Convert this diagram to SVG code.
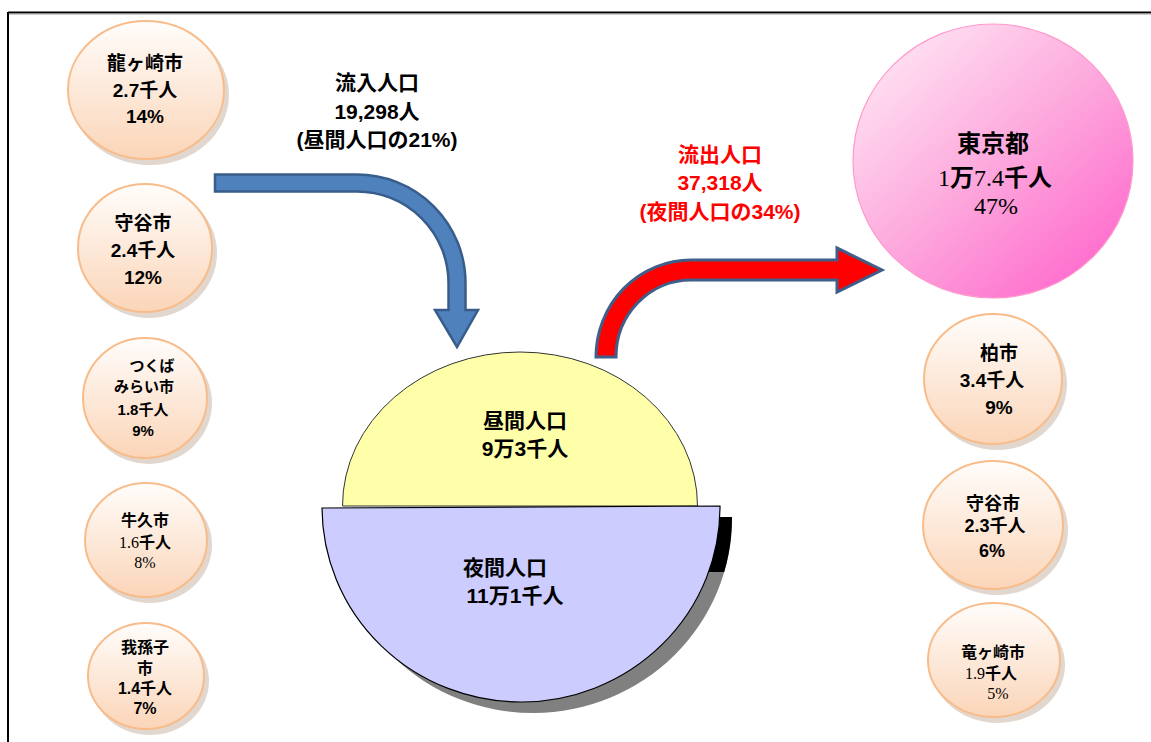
<svg xmlns="http://www.w3.org/2000/svg" width="1151" height="742" viewBox="0 0 1151 742">
<defs>
<linearGradient id="peach" x1="0" y1="0" x2="0" y2="1">
<stop offset="0" stop-color="#FFFDFB"/>
<stop offset="1" stop-color="#FBD5B8"/>
</linearGradient>
<linearGradient id="pink" x1="0.1" y1="0.05" x2="0.9" y2="0.95">
<stop offset="0" stop-color="#FFE6F4"/>
<stop offset="0.5" stop-color="#FDA9DD"/>
<stop offset="1" stop-color="#FF66CC"/>
</linearGradient>
<clipPath id="upperShadow"><rect x="300" y="500" width="460" height="72"/></clipPath>
</defs>
<style>
.bubble{fill:url(#peach);stroke:#F8BC8A;stroke-width:2}
.shadow{fill:#E2D7CE}
.t{font-family:"Liberation Sans","Noto Sans CJK JP",sans-serif;font-weight:bold;text-anchor:middle;fill:#000}
.s{font-family:"Liberation Serif","Noto Sans CJK JP",serif;font-weight:normal}
.red{fill:#FF0000}
</style>
<rect width="1151" height="742" fill="#FFFFFF"/>
<g id="frame">
<line x1="8" y1="12.5" x2="1151" y2="12.5" stroke="#000" stroke-width="2"/>
<line x1="8" y1="14" x2="1151" y2="14" stroke="#999" stroke-width="1"/>
<line x1="8" y1="12" x2="8" y2="742" stroke="#000" stroke-width="2"/>
</g>

<g id="connectors">
<path id="inflow" d="M215,174.5 H357 A108.5,108.5 0 0 1 465.5,283 V310 H478 L457,347 L435,310 H448.5 V283 A91.5,91.5 0 0 0 357,191.5 H215 Z" fill="#4F81BD" stroke="#385D8A" stroke-width="2.5" stroke-linejoin="miter"/>
<path id="outflow" d="M596,357 A95,97 0 0 1 691,260 H837 V248 L882,270 L837,292 V280 H691 A75,77 0 0 0 616,357 Z" fill="#FF0000" stroke="#3F5F8A" stroke-width="3"/>
</g>

<g id="inflow-label">
<text class="t" x="377" y="90" font-size="21">流入人口</text>
<text class="t" x="377" y="119" font-size="21">19,298人</text>
<text class="t" x="377" y="147" font-size="21">(昼間人口の21%)</text>
</g>
<g id="outflow-label">
<text class="t red" x="720" y="162" font-size="21">流出人口</text>
<text class="t red" x="720" y="190" font-size="21">37,318人</text>
<text class="t red" x="720" y="219" font-size="21">(夜間人口の34%)</text>
</g>

<g id="daytime">
<path d="M342.5,506 A177.5,154 0 0 1 697.5,506 Z" fill="#FFFFAA" stroke="#333" stroke-width="1"/>
<text class="t" x="525" y="428" font-size="21">昼間人口</text>
<text class="t" x="525" y="456" font-size="21">9万3千人</text>
</g>
<g id="nighttime">
<path d="M334,519 L732,517 A199,195 0 0 1 334,519 Z" fill="#808080"/>
<path d="M334,519 L732,517 A199,195 0 0 1 334,519 Z" fill="#000" clip-path="url(#upperShadow)"/>
<path d="M322,508 L720,506 A199,195 0 0 1 322,508 Z" fill="#CCCCFF" stroke="#000" stroke-width="1.2"/>
<text class="t" x="505" y="575" font-size="21">夜間人口</text>
<text class="t" x="515" y="603" font-size="21">11万1千人</text>
</g>

<g id="ryugasaki-in">
<ellipse class="shadow" cx="150" cy="95" rx="79" ry="70"/>
<ellipse class="bubble" cx="146" cy="90" rx="78" ry="69"/>
<text class="t" x="145" y="70" font-size="19">龍ヶ崎市</text>
<text class="t" x="145" y="97" font-size="19">2.7千人</text>
<text class="t" x="145" y="123" font-size="19">14%</text>
</g>
<g id="moriya-in">
<ellipse class="shadow" cx="149" cy="253" rx="68" ry="65"/>
<ellipse class="bubble" cx="145" cy="248" rx="67" ry="64"/>
<text class="t" x="143" y="230" font-size="19">守谷市</text>
<text class="t" x="143" y="257" font-size="19">2.4千人</text>
<text class="t" x="143" y="284" font-size="19">12%</text>
</g>
<g id="tsukubamirai-in">
<ellipse class="shadow" cx="149" cy="403" rx="63" ry="61"/>
<ellipse class="bubble" cx="145" cy="398" rx="62" ry="60"/>
<text class="t" x="152" y="371" font-size="15">つくば</text>
<text class="t" x="144" y="392" font-size="15">みらい市</text>
<text class="t" x="143" y="415" font-size="15">1.8千人</text>
<text class="t" x="143" y="436" font-size="15">9%</text>
</g>
<g id="ushiku-in">
<ellipse class="shadow" cx="150" cy="545" rx="62" ry="58"/>
<ellipse class="bubble" cx="146" cy="540" rx="61" ry="57"/>
<text class="t" x="145" y="526" font-size="16">牛久市</text>
<text class="t" x="145" y="548" font-size="16"><tspan class="s">1.6</tspan>千人</text>
<text class="t s" x="145" y="568" font-size="16">8%</text>
</g>
<g id="abiko-in">
<ellipse class="shadow" cx="150" cy="681" rx="59" ry="54"/>
<ellipse class="bubble" cx="146" cy="676" rx="58" ry="53"/>
<text class="t" x="145" y="653" font-size="16">我孫子</text>
<text class="t" x="145" y="674" font-size="16">市</text>
<text class="t" x="145" y="694" font-size="16">1.4千人</text>
<text class="t" x="145" y="714" font-size="16">7%</text>
</g>

<g id="tokyo-out">
<ellipse cx="993" cy="161" rx="140" ry="137" fill="url(#pink)" stroke="#FF99CC" stroke-width="1.2"/>
<text class="t" x="993" y="152" font-size="24">東京都</text>
<text class="t" x="995" y="186" font-size="24"><tspan class="s">1</tspan>万<tspan class="s">7.4</tspan>千人</text>
<text class="t s" x="996" y="214" font-size="24">47%</text>
</g>
<g id="kashiwa-out">
<ellipse class="shadow" cx="997" cy="384" rx="70" ry="66"/>
<ellipse class="bubble" cx="993" cy="379" rx="69" ry="65"/>
<text class="t" x="999" y="360" font-size="19">柏市</text>
<text class="t" x="992" y="387" font-size="19">3.4千人</text>
<text class="t" x="999" y="414" font-size="19">9%</text>
</g>
<g id="moriya-out">
<ellipse class="shadow" cx="997" cy="530" rx="71" ry="65"/>
<ellipse class="bubble" cx="993" cy="525" rx="70" ry="64"/>
<text class="t" x="993" y="510" font-size="18">守谷市</text>
<text class="t" x="995" y="532" font-size="18">2.3千人</text>
<text class="t" x="992" y="557" font-size="18">6%</text>
</g>
<g id="ryugasaki-out">
<ellipse class="shadow" cx="998" cy="665" rx="67" ry="58"/>
<ellipse class="bubble" cx="994" cy="660" rx="66" ry="57"/>
<text class="t" x="993" y="658" font-size="16">竜ヶ崎市</text>
<text class="t" x="991" y="679" font-size="16"><tspan class="s">1.9</tspan>千人</text>
<text class="t s" x="998" y="699" font-size="16">5%</text>
</g>
</svg>
